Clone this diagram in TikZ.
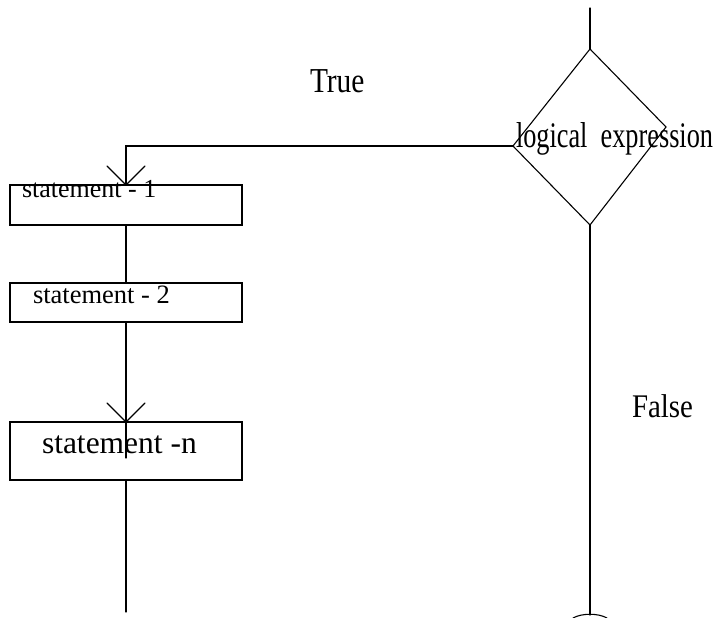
\documentclass[tikz,border=0pt]{standalone}
\usepackage{fontspec}
\setmainfont{Liberation Serif}
\usepackage{graphicx}
\tikzset{
  box/.style={draw, line width=1.1pt, minimum width=232pt, inner sep=0pt, outer sep=0pt},
  txt/.style={anchor=base west, inner sep=0pt, outer sep=0pt},
  ln/.style={line width=1.1pt, line cap=round},
}
\begin{document}
\begin{tikzpicture}[x=1pt, y=-1pt]
\useasboundingbox (0,0) rectangle (721,618);
% diamond
\coordinate (dt) at (590,49);
\coordinate (dl) at (513,146);
\coordinate (dr) at (666,127);
\coordinate (db) at (590,225);
\coordinate (top) at (590,8);
\coordinate (fend) at (590,615);
\draw[ln, line join=miter] (dt) -- (dr) -- (db) -- (dl) -- cycle;
\node[txt] (cond) at (516,147) {\scalebox{0.73}[1]{\fontsize{36}{40}\selectfont logical\hspace{0.5em}expression}};
% boxes
\node[box, minimum height=40pt] (s1) at (126,205) {};
\node[box, minimum height=39pt] (s2) at (126,302.5) {};
\node[box, minimum height=58pt] (sn) at (126,451) {};
\node[txt] (t1) at (22,197) {\fontsize{26}{30}\selectfont statement - 1};
\node[txt] (t2) at (33,303) {\fontsize{26.5}{30}\selectfont statement - 2};
\node[txt] (tn) at (42,453) {\fontsize{31.5}{36}\selectfont statement -n};
% labels
\node[txt] (true) at (310,93) {\scalebox{0.84}[1]{\fontsize{35}{40}\selectfont True}};
\node[txt] (false) at (632,417) {\scalebox{0.875}[1]{\fontsize{33}{40}\selectfont False}};
% connectors
\coordinate (send) at (126,612);
\draw[ln] (top) -- (dt);
\draw[ln] (db) -- (fend);
\draw[ln] (573,618) .. controls (582,613) and (598,613) .. (607,618);
\draw[ln] (dl) -| (s1.north);
\draw[ln] (s1.north) ++(-19,-19) -- (s1.north) -- ++(19,-19);
\draw[ln] (s1.south) -- (s2.north);
\draw[ln] (s2.south) -- (sn.north) -- ++(0,36);
\draw[ln] (sn.north) ++(-19,-19) -- (sn.north) -- ++(19,-19);
\draw[ln] (sn.south) -- (send);
\end{tikzpicture}
\end{document}
